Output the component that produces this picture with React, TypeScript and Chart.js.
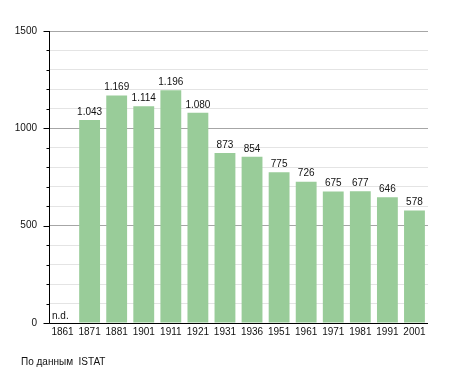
import React, { useEffect, useRef } from "react";
import { Chart, registerables } from "chart.js";

Chart.register(...registerables);

const years = ["1861", "1871", "1881", "1901", "1911", "1921", "1931", "1936", "1951", "1961", "1971", "1981", "1991", "2001"];
const population: (number | null)[] = [null, 1043, 1169, 1114, 1196, 1080, 873, 854, 775, 726, 675, 677, 646, 578];
const yMin = 0;
const yMax = 1500;
const yStep = 100;
const yLabelStep = 500;
const missingLabel = "n.d.";
const sourceNote = "По данным  ISTAT";

const FONT = "'Liberation Sans', Arial, sans-serif";
const BAR_COLOR = "#99cc99";

const fmt = (v: number) => v.toLocaleString("it-IT");

const overlayPlugin = {
  id: "overlay",
  afterDatasetsDraw(chart: any) {
    const { ctx, chartArea, scales } = chart;
    const xs = scales.x;
    const ys = scales.y;
    ctx.save();
    // axes lines
    ctx.strokeStyle = "#000";
    ctx.lineWidth = 1;
    ctx.beginPath();
    const lx = Math.round(chartArea.left) + 0.5;
    const by = Math.round(ys.getPixelForValue(0)) + 0.5;
    ctx.moveTo(lx, ys.getPixelForValue(yMax));
    ctx.lineTo(lx, by);
    ctx.lineTo(chartArea.right, by);
    ctx.stroke();
    // y ticks
    for (let v = yMin; v <= yMax; v += yStep) {
      const y = Math.round(ys.getPixelForValue(v)) + 0.5;
      const len = v % yLabelStep === 0 ? 6 : 3;
      ctx.beginPath();
      ctx.moveTo(lx - len, y);
      ctx.lineTo(lx, y);
      ctx.stroke();
    }
    // value labels
    ctx.font = `10px ${FONT}`;
    ctx.fillStyle = "#111";
    ctx.textBaseline = "bottom";
    const catW = xs.width / years.length;
    population.forEach((v, i) => {
      const x = xs.getPixelForValue(i);
      if (v == null) {
        ctx.textAlign = "left";
        ctx.fillText(missingLabel, x - catW / 2 + 3, ys.getPixelForValue(0) - 2);
      } else {
        ctx.textAlign = "center";
        ctx.fillText(fmt(v), x, ys.getPixelForValue(v) - 3);
      }
    });
    // source note
    ctx.textAlign = "left";
    ctx.textBaseline = "middle";
    ctx.fillText(sourceNote, 21, chart.height - 11);
    ctx.restore();
  },
};

export default function App() {
  const ref = useRef<HTMLCanvasElement | null>(null);
  useEffect(() => {
    if (!ref.current) return;
    const chart = new Chart(ref.current, {
      type: "bar",
      data: {
        labels: years,
        datasets: [
          {
            data: population,
            backgroundColor: BAR_COLOR,
            borderWidth: 0,
            categoryPercentage: 1,
            barPercentage: 0.77,
          },
        ],
      },
      options: {
        responsive: false,
        animation: false,
        devicePixelRatio: 1,
        layout: { padding: { top: 31, right: 27, left: 0, bottom: 0 } },
        plugins: { legend: { display: false }, tooltip: { enabled: false } },
        scales: {
          x: {
            grid: { display: false, drawTicks: false },
            border: { display: false },
            ticks: { color: "#111", font: { family: FONT, size: 10 }, padding: 3, maxRotation: 0, autoSkip: false },
            afterFit: (s: any) => {
              s.height = 50;
            },
          },
          y: {
            min: yMin,
            max: yMax,
            border: { display: false },
            grid: {
              color: (c: any) => (c.tick && c.tick.value % yLabelStep === 0 ? "#a6a6a6" : "#e4e4e4"),
              tickLength: 6,
              tickColor: "rgba(0,0,0,0)",
            },
            ticks: {
              stepSize: yStep,
              padding: 6,
              color: "#111",
              font: { family: FONT, size: 10 },
              callback: (v: any) => (Number(v) % yLabelStep === 0 ? String(v) : ""),
            },
            afterFit: (s: any) => {
              s.width = 49;
            },
          },
        },
      },
      plugins: [overlayPlugin],
    });
    return () => chart.destroy();
  }, []);
  return (
    <div style={{ position: "absolute", left: 0, top: 0, width: 455, height: 373, background: "#fff" }}>
      <canvas ref={ref} width={455} height={373} style={{ width: 455, height: 373 }} />
    </div>
  );
}
